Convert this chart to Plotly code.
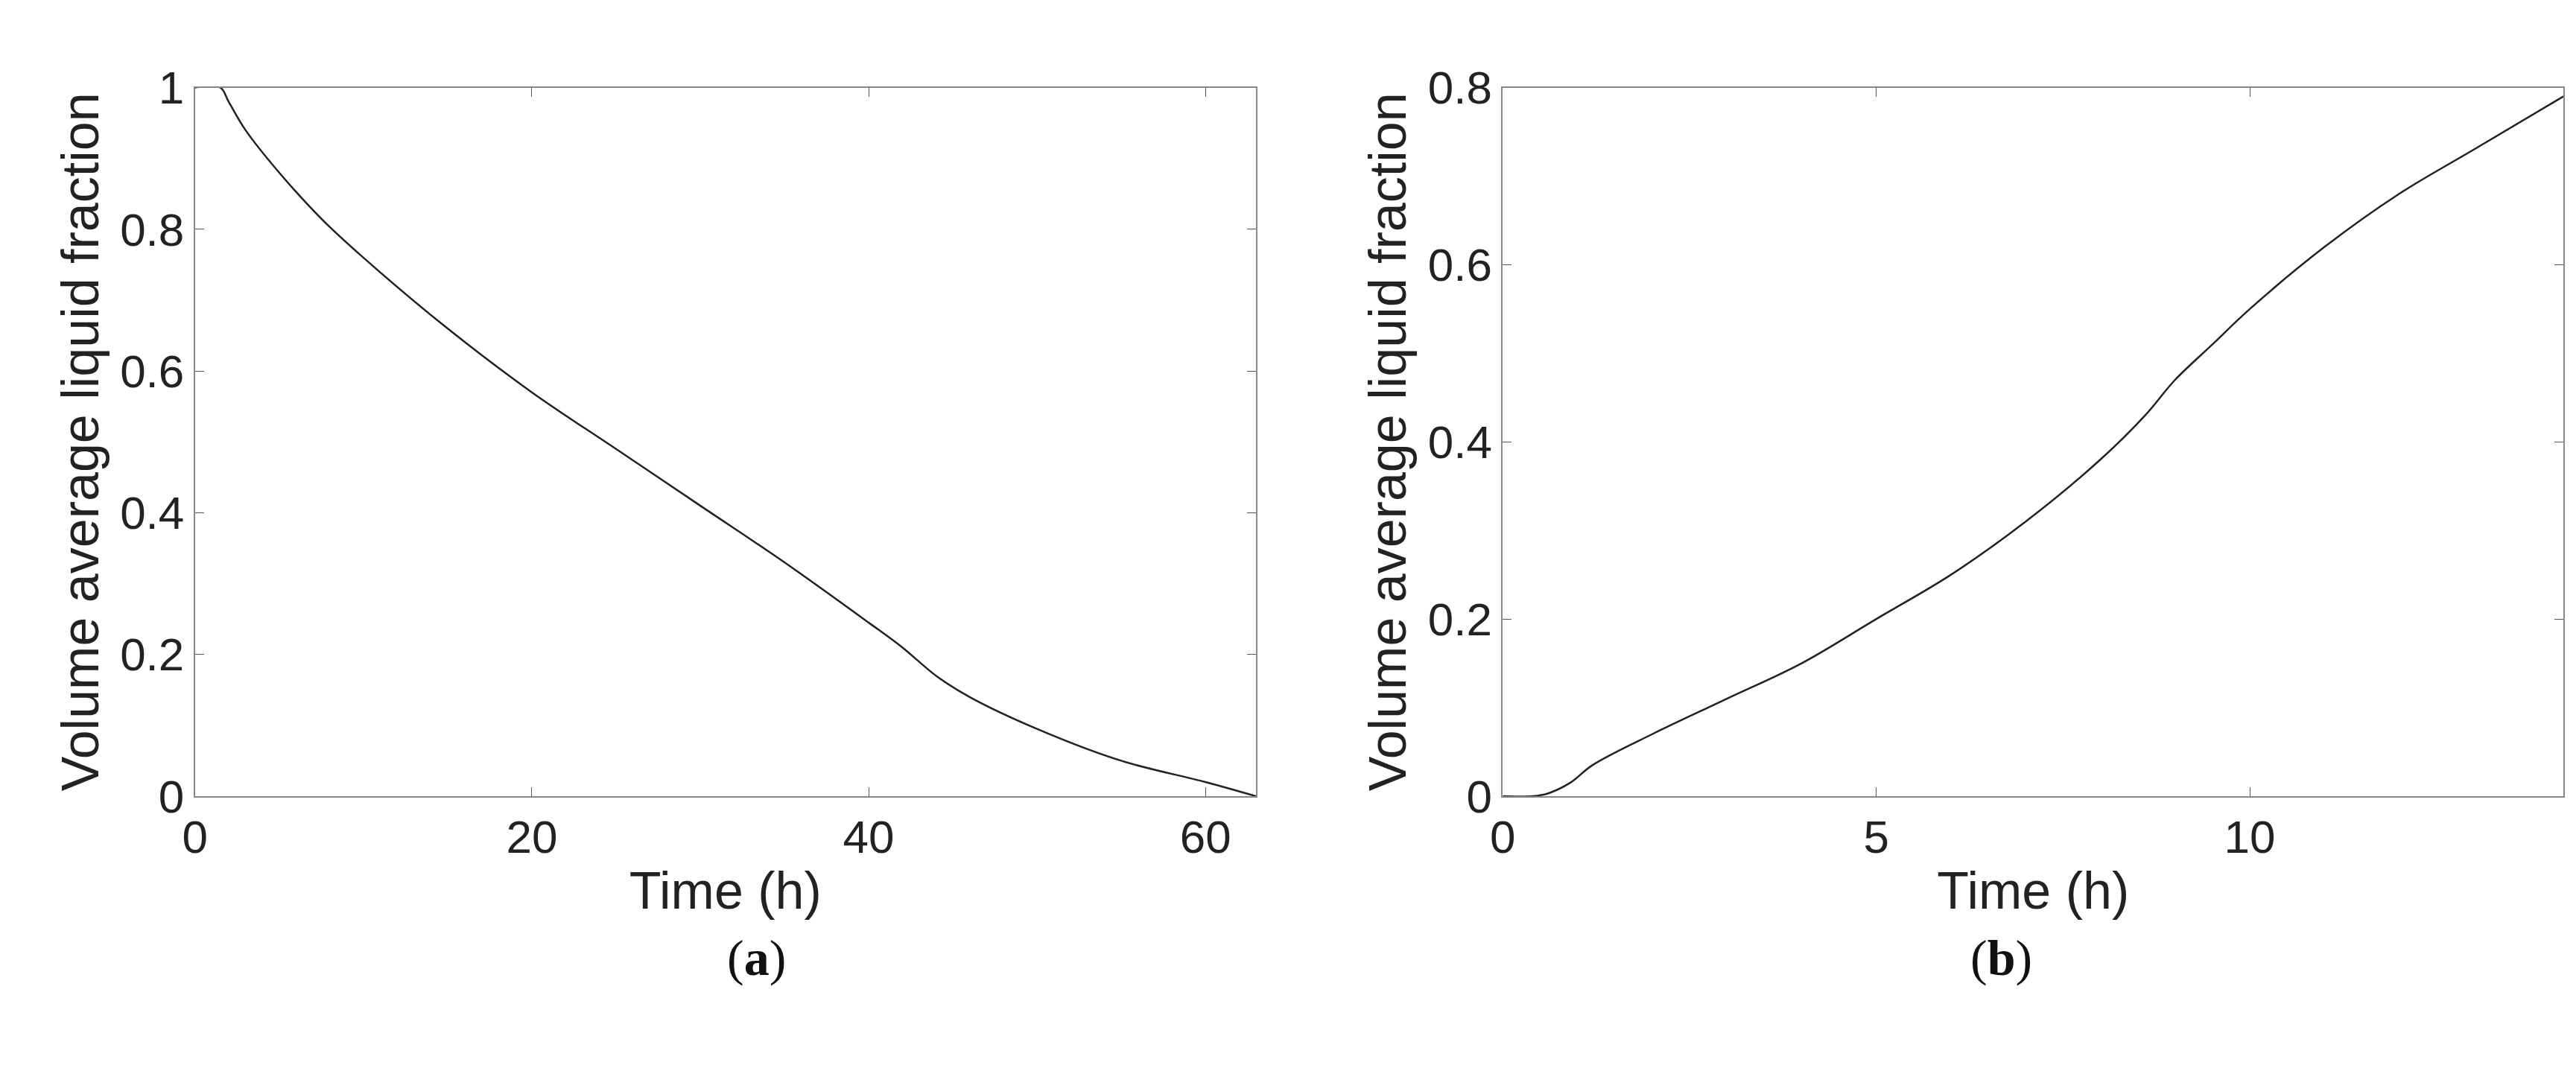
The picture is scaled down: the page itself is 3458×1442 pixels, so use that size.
import plotly.graph_objects as go
from plotly.subplots import make_subplots

# (a) solidification
time_a = [0, 1.5, 2, 3, 5, 7.5, 10, 15, 20, 25, 30, 35, 40, 42, 44, 46, 50, 55, 60, 63]
frac_a = [1, 1, 0.98, 0.94, 0.88, 0.815, 0.76, 0.66, 0.57, 0.49, 0.41, 0.33, 0.245, 0.21, 0.17, 0.14, 0.095, 0.05, 0.02, 0]

# (b) melting
time_b = [0, 0.4, 0.6, 0.9, 1.2, 2, 3, 4, 5, 6, 7, 8, 8.6, 9, 9.5, 10, 11, 12, 13, 14.2]
frac_b = [0, 0, 0.003, 0.015, 0.035, 0.07, 0.11, 0.15, 0.2, 0.25, 0.31, 0.38, 0.43, 0.47, 0.51, 0.55, 0.62, 0.68, 0.73, 0.79]

fig = make_subplots(rows=1, cols=2)
fig.add_trace(go.Scatter(x=time_a, y=frac_a, mode="lines", line=dict(color="#222", width=2.5, shape="spline")), 1, 1)
fig.add_trace(go.Scatter(x=time_b, y=frac_b, mode="lines", line=dict(color="#222", width=2.5, shape="spline")), 1, 2)

axis_style = dict(showline=True, linecolor="#888", linewidth=2, mirror="ticks", ticks="inside",
                  ticklen=12, tickcolor="#555", showgrid=False, zeroline=False,
                  tickfont=dict(size=62, color="#222"), title_font=dict(size=70, color="#222"))

fig.update_xaxes(**axis_style, title_text="Time (h)", title_standoff=14)
fig.update_yaxes(**axis_style, title_text="Volume average liquid fraction", title_standoff=6)

fig.update_xaxes(range=[0, 63], tickvals=[0, 20, 40, 60], domain=[0.0688, 0.4827], row=1, col=1)
fig.update_yaxes(range=[0, 1], tickvals=[0, 0.2, 0.4, 0.6, 0.8, 1], ticktext=["0", "0.2", "0.4", "0.6", "0.8", "1"],
                 domain=[0.252, 0.945], row=1, col=1)
fig.update_xaxes(range=[0, 14.2], tickvals=[0, 5, 10], domain=[0.579, 0.9928], row=1, col=2)
fig.update_yaxes(range=[0, 0.8], tickvals=[0, 0.2, 0.4, 0.6, 0.8], ticktext=["0", "0.2", "0.4", "0.6", "0.8"],
                 domain=[0.252, 0.945], row=1, col=2)

for x, lab in [(0.2757, "a"), (0.786, "b")]:
    fig.add_annotation(x=x, y=0.065, xref="paper", yref="paper", showarrow=False,
                       text=f"(<b>{lab}</b>)", font=dict(family="Liberation Serif", size=68, color="#111"))

fig.update_layout(width=3458, height=1442, margin=dict(l=0, r=0, t=0, b=0),
                  paper_bgcolor="white", plot_bgcolor="white", showlegend=False,
                  font=dict(family="Liberation Sans"))
fig.write_html("out.html")
